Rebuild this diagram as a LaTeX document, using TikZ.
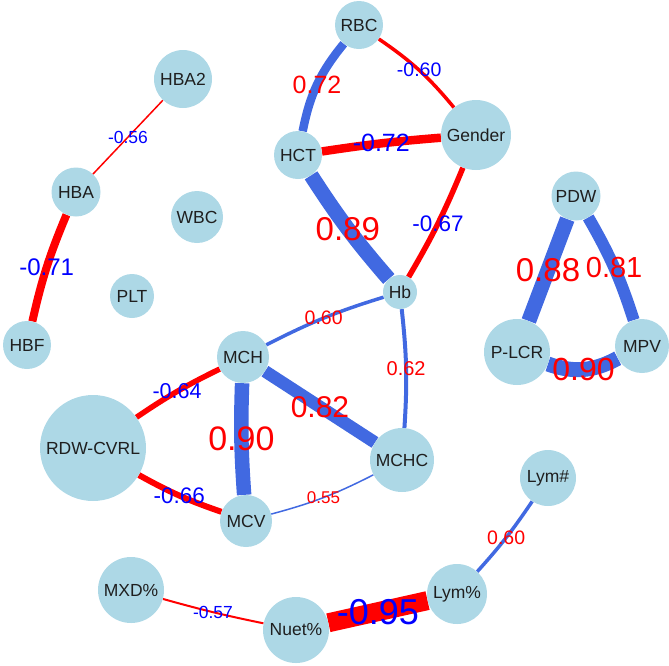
\documentclass[tikz,border=0pt]{standalone}
\usepackage{fontspec}
\setmainfont{Liberation Sans}
\usepackage{tikz}
\usetikzlibrary{positioning}
\usepackage{xcolor}

\definecolor{featfill}{HTML}{ADD8E6}
\definecolor{posedge}{HTML}{4169E1}
\definecolor{negedge}{HTML}{FF0000}
\definecolor{poslab}{HTML}{FF0000}
\definecolor{neglab}{HTML}{0000FF}

\pgfdeclarelayer{edges}
\pgfsetlayers{edges,main}

\tikzset{
  feature/.style={circle, fill=featfill, inner sep=0pt, minimum size=#1,
    text=black!88, font=\fontsize{17.5}{19}\selectfont},
  plink/.style={posedge, line width=#1},
  nlink/.style={negedge, line width=#1},
  rlab/.style={midway, inner sep=0pt, text=poslab, font=\fontsize{#1}{#1}\selectfont},
  blab/.style={midway, inner sep=0pt, text=neglab, font=\fontsize{#1}{#1}\selectfont},
}

\begin{document}
\begin{tikzpicture}[x=1pt,y=1pt]
    \useasboundingbox (0,0) rectangle (669,-665);

    % Variables
    \node[feature=48pt]  (rbc)    at (359,-25)  {RBC};
    \node[feature=70pt]  (gender) at (476,-135) {Gender};
    \node[feature=48pt]  (hct)    at (298,-155) {HCT};
    \node[feature=34pt]  (hb)     at (400,-292) {Hb};
    \node[feature=58pt]  (hbaii)  at (183,-79)  {HBA2};
    \node[feature=49pt]  (hba)    at (76,-192)  {HBA};
    \node[feature=48pt]  (hbf)    at (27,-345)  {HBF};
    \node[feature=52pt]  (wbc)    at (197,-217) {WBC};
    \node[feature=44pt]  (plt)    at (132,-296) {PLT};
    \node[feature=49pt]  (pdw)    at (576,-196) {PDW};
    \node[feature=66pt]  (plcr)   at (517,-352) {P-LCR};
    \node[feature=54pt]  (mpv)    at (642,-346) {MPV};
    \node[feature=52pt]  (mch)    at (243,-357) {MCH};
    \node[feature=106pt] (rdw)    at (93,-448)  {RDW-CVRL};
    \node[feature=64pt]  (mchc)   at (402,-460) {MCHC};
    \node[feature=52pt]  (mcv)    at (246,-521) {MCV};
    \node[feature=56pt]  (lymn)   at (548,-478) {Lym\#};
    \node[feature=60pt]  (lymp)   at (457,-594) {Lym\%};
    \node[feature=66pt]  (nuet)   at (296,-630) {Nuet\%};
    \node[feature=66pt]  (mxd)    at (131,-590) {MXD\%};

    \begin{pgfonlayer}{edges}
    % Red cell group
    \draw[plink=8.5pt] (rbc) to[bend right=14] node[rlab=25] {0.72} (hct);
    \draw[nlink=3.5pt] (rbc) to[bend left=8] node[blab=19.5] {-0.60} (gender);
    \draw[nlink=8.5pt] (hct) to[bend left=2] node[blab=25] {-0.72} (gender);
    \draw[plink=15pt] (hct) to[bend right=4] node[rlab=33] {0.89} (hb);
    \draw[nlink=5.5pt] (gender) to[bend left=4] node[blab=22.5] {-0.67} (hb);

    % Haemoglobin fractions
    \draw[nlink=1.5pt] (hbaii) -- node[blab=17.5] {-0.56} (hba);
    \draw[nlink=8pt] (hba) to[bend right=5] node[blab=24] {-0.71} (hbf);

    % Platelet indices
    \draw[plink=15pt] (pdw) -- node[rlab=33] {0.88} (plcr);
    \draw[plink=12pt] (pdw) to[bend left=6] node[rlab=29] {0.81} (mpv);
    \draw[plink=15pt] (plcr) to[bend right=24] node[rlab=32] {0.90} (mpv);

    % Red cell indices
    \draw[plink=3.5pt] (hb) to[bend right=5] node[rlab=19.5] {0.60} (mch);
    \draw[plink=4pt] (hb) to[bend left=5] node[rlab=20] {0.62} (mchc);
    \draw[nlink=5.5pt] (mch) to[bend right=4] node[blab=21.5] {-0.64} (rdw);
    \draw[plink=14.5pt] (mch) to[bend right=3] node[rlab=34] {0.90} (mcv);
    \draw[plink=12.5pt] (mch) -- node[rlab=30] {0.82} (mchc);
    \draw[nlink=6pt] (rdw) to[bend right=5] node[blab=22.5] {-0.66} (mcv);
    \draw[plink=1.5pt] (mcv) to[bend right=6] node[rlab=17] {0.55} (mchc);

    % White cell differential
    \draw[plink=3.5pt] (lymn) to[bend left=4] node[rlab=19.5] {0.60} (lymp);
    \draw[nlink=19pt] (lymp) -- node[blab=36] {-0.95} (nuet);
    \draw[nlink=2pt] (mxd) to[bend right=2] node[blab=17.5] {-0.57} (nuet);
    \end{pgfonlayer}
\end{tikzpicture}
\end{document}
